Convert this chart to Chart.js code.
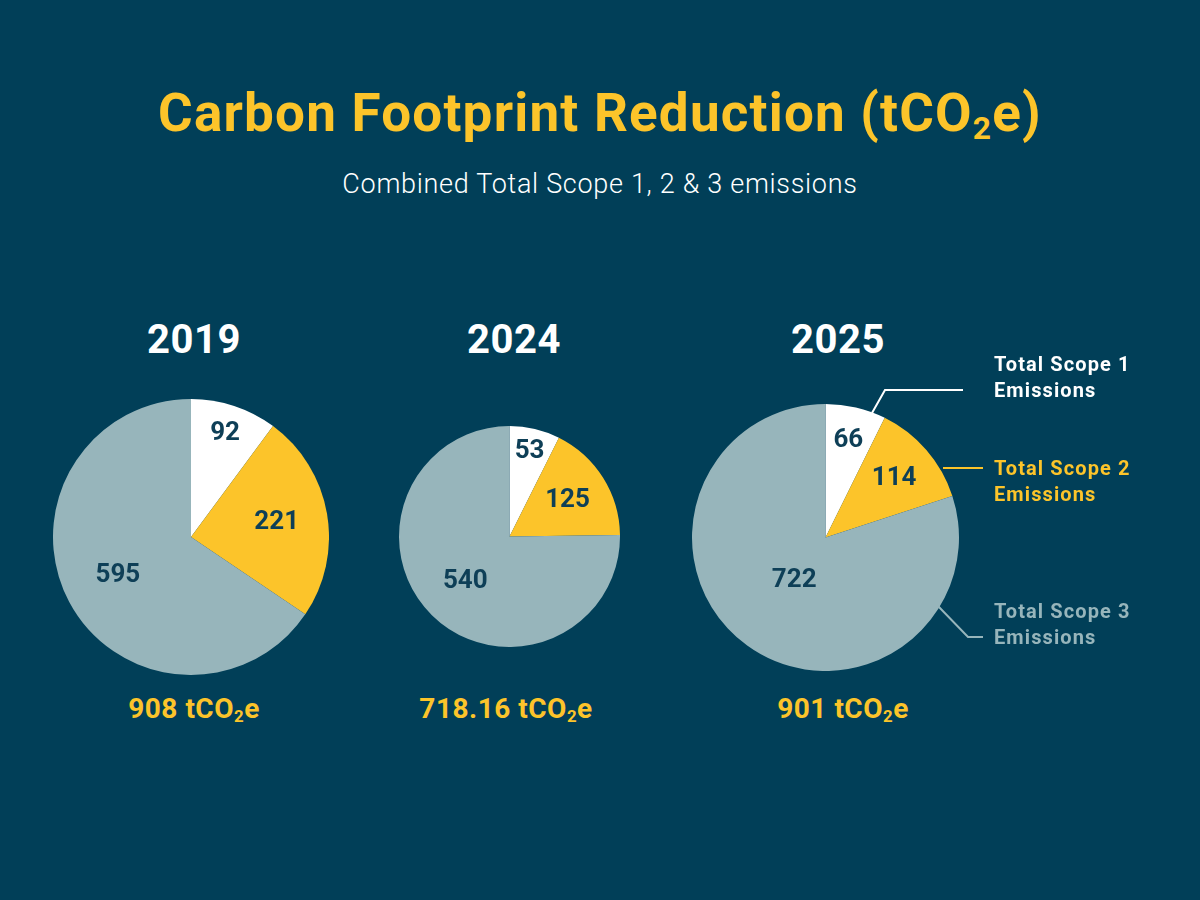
<!DOCTYPE html>
<html>
<head>
<meta charset="utf-8">
<script src="https://cdn.jsdelivr.net/npm/chart.js@4"></script>
<style>
  body { margin: 0; background: #013f58; font-family: Roboto, sans-serif; }
  #wrap { position: relative; width: 1200px; height: 900px; overflow: hidden; }
  .abs { position: absolute; }
  .title { left: 0; width: 1200px; top: 82px; text-align: center; color: #fcc42a; font-weight: 700; font-size: 53px; letter-spacing: 1.2px; }
  .sub { left: 0; width: 1200px; top: 168px; text-align: center; color: #fff; font-weight: 300; font-size: 27px; letter-spacing: 0.7px; }
  .year { width: 300px; text-align: center; color: #fff; font-weight: 700; font-size: 40px; top: 316px; letter-spacing: 0.5px; }
  .total { width: 300px; text-align: center; color: #fcc42a; font-weight: 700; font-size: 28px; top: 692px; letter-spacing: 0.5px; }
  .leg { left: 994px; font-weight: 700; font-size: 20px; line-height: 26px; letter-spacing: 1.1px; }
  sub { font-size: 0.6em; vertical-align: -0.25em; line-height: 0; }
</style>
</head>
<body>
<div id="wrap">
  <div class="abs title">Carbon Footprint Reduction (tCO<sub>2</sub>e)</div>
  <div class="abs sub">Combined Total Scope 1, 2 &amp; 3 emissions</div>

  <div class="abs year" style="left:44px">2019</div>
  <div class="abs year" style="left:364px">2024</div>
  <div class="abs year" style="left:688px">2025</div>

  <div class="abs" style="left:53px;top:399px;width:276px;height:276px"><canvas id="c1"></canvas></div>
  <div class="abs" style="left:399px;top:426px;width:221px;height:221px"><canvas id="c2"></canvas></div>
  <div class="abs" style="left:692px;top:404px;width:267px;height:267px"><canvas id="c3"></canvas></div>

  <div class="abs total" style="left:44px">908 tCO<sub>2</sub>e</div>
  <div class="abs total" style="left:356px">718.16 tCO<sub>2</sub>e</div>
  <div class="abs total" style="left:693px">901 tCO<sub>2</sub>e</div>

  <svg class="abs" style="left:0;top:0" width="1200" height="900">
    <polyline points="872,413 885,390 963,390" fill="none" stroke="#ffffff" stroke-width="2"/>
    <polyline points="943,468 983,468" fill="none" stroke="#fcc42a" stroke-width="2"/>
    <polyline points="938,606 968,637 983,637" fill="none" stroke="#97b5bb" stroke-width="2"/>
  </svg>

  <div class="abs leg" style="top:351px;color:#fff">Total Scope 1<br>Emissions</div>
  <div class="abs leg" style="top:455px;color:#fcc42a">Total Scope 2<br>Emissions</div>
  <div class="abs leg" style="top:598px;color:#97b5bb">Total Scope 3<br>Emissions</div>
</div>

<script>
const scopes = ['Total Scope 1 Emissions', 'Total Scope 2 Emissions', 'Total Scope 3 Emissions'];
const values2019 = [92, 221, 595];
const values2024 = [53, 125, 540];
const values2025 = [66, 114, 722];

const colors = ['#ffffff', '#fcc42a', '#97b5bb'];

// how far out (fraction of radius) each slice label sits
const labelPos = {
  c1: [0.79, 0.63, 0.6],
  c2: [0.79, 0.62, 0.57],
  c3: [0.75, 0.68, 0.4]
};

const sliceLabels = {
  id: 'sliceLabels',
  afterDatasetsDraw(chart) {
    const ctx = chart.ctx;
    const meta = chart.getDatasetMeta(0);
    const fr = labelPos[chart.canvas.id];
    ctx.save();
    ctx.font = '700 26px Roboto';
    ctx.fillStyle = '#0e3f57';
    ctx.textAlign = 'center';
    ctx.textBaseline = 'middle';
    meta.data.forEach((arc, i) => {
      const p = arc.getProps(['x', 'y', 'startAngle', 'endAngle', 'outerRadius'], true);
      const a = (p.startAngle + p.endAngle) / 2;
      const r = p.outerRadius * fr[i];
      ctx.fillText(chart.data.datasets[0].data[i], p.x + Math.cos(a) * r, p.y + Math.sin(a) * r);
    });
    ctx.restore();
  }
};

function makePie(id, vals) {
  return new Chart(document.getElementById(id), {
    type: 'pie',
    data: {
      labels: scopes,
      datasets: [{ data: vals, backgroundColor: colors, borderWidth: 0 }]
    },
    options: {
      responsive: true,
      maintainAspectRatio: false,
      animation: false,
      layout: { padding: 0 },
      plugins: { legend: { display: false }, tooltip: { enabled: false } }
    },
    plugins: [sliceLabels]
  });
}

makePie('c1', values2019);
makePie('c2', values2024);
makePie('c3', values2025);
</script>
</body>
</html>
